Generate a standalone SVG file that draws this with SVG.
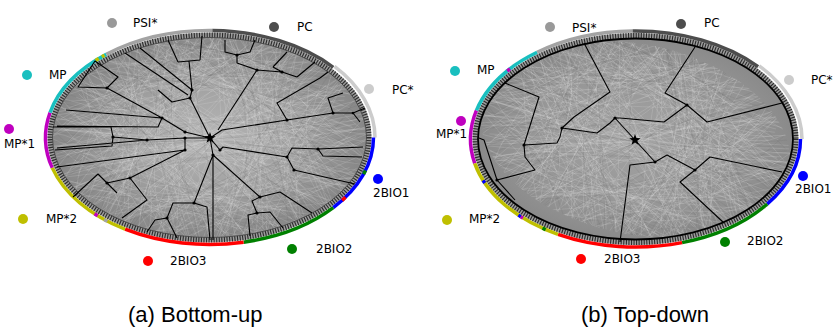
<svg xmlns="http://www.w3.org/2000/svg" xmlns:xlink="http://www.w3.org/1999/xlink" width="834" height="334" viewBox="0 0 834 334">
<style>
.lbl{font-family:"DejaVu Sans",sans-serif;font-size:12px;fill:#000}
.cap{font-family:"Liberation Sans",Arial,sans-serif;font-size:22px;fill:#000}
.band{fill:none;stroke-width:3.5}
.tree{fill:none;stroke:#000;stroke-width:1.1;stroke-linejoin:round}
.tex{fill:none;stroke:#e6e6e6;stroke-width:.55;opacity:.3}
.tex2{fill:none;stroke:#6a6a6a;stroke-width:.5;opacity:.3}
.psi{stroke:#a3a3a3}.pc{stroke:#4d4d4d}.pcs{stroke:#cccccc}.mp{stroke:#19bfbf}.mp1{stroke:#bf00bf}.mp2{stroke:#bfbf00}.b1{stroke:#0000ff}.b2{stroke:#008000}.b3{stroke:#ff0000}
</style>
<defs>
<radialGradient id="gL" cx="50%" cy="50%" r="50%">
<stop offset="0" stop-color="#b6b6b6"/><stop offset="0.55" stop-color="#a0a0a0"/><stop offset="1" stop-color="#878787"/>
</radialGradient>
<radialGradient id="gR" cx="50%" cy="50%" r="50%">
<stop offset="0" stop-color="#a2a2a2"/><stop offset="0.7" stop-color="#969696"/><stop offset="1" stop-color="#898989"/>
</radialGradient>
<clipPath id="clipE"><ellipse cx="0" cy="0" rx="157" ry="100"/></clipPath>
<g id="texBase">
<path d="M-150 -40 Q -20 -90 140 -30 M-140 20 Q 0 -60 150 40 M-120 70 Q 10 0 130 -70 M-90 -90 Q 0 20 100 95 M-160 0 Q -30 60 120 80 M-60 -100 Q 40 -10 155 10 M-130 -60 Q 0 40 60 100 M-20 -105 Q -60 0 -10 105 M30 -105 Q 80 0 20 105 M-100 90 Q 20 -40 150 -50 M-155 -20 Q 0 20 155 -10 M-150 40 Q 0 -10 150 55 M-80 -95 Q 60 -60 140 60 M-140 -70 Q -40 40 -100 85 M90 -90 Q 40 20 120 85 M-40 100 Q 60 40 100 -95 M-150 -10 Q -70 -80 40 -100 M-60 95 Q 80 70 155 -20 M-110 -80 Q 20 -30 60 -100 M-150 60 Q -50 30 -20 -100 M10 100 Q 30 -20 150 -60 M-130 85 Q -90 -30 -40 -100 M60 95 Q 100 0 160 -5 M-155 25 Q -60 -30 80 -95"/>
</g>
<g id="texSet">
<use xlink:href="#texBase" class="tex"/>
<use xlink:href="#texBase" class="tex" transform="scale(-1,1)"/>
<use xlink:href="#texBase" class="tex" transform="scale(1,-1)"/>
<use xlink:href="#texBase" class="tex" transform="scale(-1,-1) rotate(8)"/>
<use xlink:href="#texBase" class="tex" transform="rotate(15) scale(1.1,0.9)"/>
<use xlink:href="#texBase" class="tex" transform="rotate(-20) scale(0.9,1.1)"/>
<use xlink:href="#texBase" class="tex" transform="scale(-1,1) rotate(25)"/>
<use xlink:href="#texBase" class="tex" transform="scale(1,-1) rotate(-30)"/>
<use xlink:href="#texBase" class="tex" transform="translate(20,10) rotate(40)"/>
<use xlink:href="#texBase" class="tex" transform="translate(-25,-8) rotate(-45)"/>
<use xlink:href="#texBase" class="tex2" transform="rotate(-6) scale(0.95,1)"/>
<use xlink:href="#texBase" class="tex2" transform="scale(-1,1) rotate(5)"/>
<use xlink:href="#texBase" class="tex2" transform="rotate(35)"/>
</g>
<g id="tex" clip-path="url(#clipE)">
<use xlink:href="#texSet"/>
</g>
<path id="star" d="M0,-6 L1.41,-1.94 L5.71,-1.85 L2.28,0.74 L3.53,4.85 L0,2.4 L-3.53,4.85 L-2.28,0.74 L-5.71,-1.85 L-1.41,-1.94 Z" fill="#000"/>
</defs>
<rect width="834" height="334" fill="#fff"/>

<!-- Panel (a) -->
<g id="panelA">
<ellipse cx="209.5" cy="137.5" rx="159.5" ry="102.5" fill="url(#gL)"/>
<use xlink:href="#tex" transform="translate(209.5,137.5)"/>
<ellipse cx="209.5" cy="137.5" rx="159.5" ry="102.5" fill="none" stroke="#9c9c9c" stroke-width="5"/>
<ellipse cx="209.5" cy="137.5" rx="159.5" ry="102.5" fill="none" stroke="#2b2b2b" stroke-width="5" stroke-dasharray="1.1 1.5"/>
<ellipse cx="209.5" cy="137.5" rx="157" ry="100" fill="none" stroke="#333" stroke-width="0.7"/>
<g id="ringA">
<path class="band mp1" d="M52.26 167.89 A164 107 0 0 1 50.03 112.53"/>
<path class="band mp" d="M50.03 112.53 A164 107 0 0 1 106.3 54.35"/>
<path class="band psi" d="M106.3 54.35 A164 107 0 0 1 212.36 30.52"/>
<path class="band pc" d="M212.36 30.52 A164 107 0 0 1 333.27 67.3"/>
<path class="band pcs" stroke-width="5.5" d="M334.5 66.4 A165.5 108.5 0 0 1 375 137.5"/>
<path class="band b1" d="M373.5 137.5 A164 107 0 0 1 333.27 207.7"/>
<path class="band b2" d="M333.27 207.7 A164 107 0 0 1 243.6 242.16"/>
<path class="band b3" d="M243.6 242.16 A164 107 0 0 1 125.04 229.22"/>
<path class="band mp2" d="M125.04 229.22 A164 107 0 0 1 52.26 167.89"/>
<path class="band mp2" d="M95.57 60.53 A164 107 0 0 1 98.7 58.61 M101.9 56.75 A164 107 0 0 1 104.5 55.29"/>
<path class="band b2" d="M365.5 170.56 A164 107 0 0 1 363.6 174.1"/>
<path class="band b3" d="M345.46 197.33 A164 107 0 0 1 342.18 200.39"/>
<path class="band mp1" d="M97.65 215.76 A164 107 0 0 1 94.55 213.82"/>
<path class="band psi" d="M107.4 221.24 A164 107 0 0 1 104.1 219.47"/>
</g>
</g>

<!-- Panel (b) -->
<g id="panelB">
<ellipse cx="635.5" cy="139" rx="160.5" ry="103.5" fill="url(#gR)"/>
<use xlink:href="#tex" transform="translate(635.5,139) rotate(12) scale(1,0.95)"/>
<ellipse cx="635.5" cy="139" rx="160.5" ry="103.5" fill="none" stroke="#9c9c9c" stroke-width="5"/>
<ellipse cx="635.5" cy="139" rx="160.5" ry="103.5" fill="none" stroke="#2b2b2b" stroke-width="5" stroke-dasharray="1.1 1.5"/>
<ellipse cx="635.5" cy="139" rx="157.5" ry="100.5" fill="none" stroke="#000" stroke-width="1.8"/>
<g id="ringB">
<path class="band mp1" d="M474.73 163.3 A165 108 0 0 1 476.42 110.33"/>
<path class="band mp" d="M476.42 110.33 A165 108 0 0 1 537.13 52.3"/>
<path class="band psi" d="M537.13 52.3 A165 108 0 0 1 632.62 31.02"/>
<path class="band pc" d="M632.62 31.02 A165 108 0 0 1 758.1 66.73"/>
<path class="band pcs" stroke-width="5.5" d="M759.2 65.8 A166.5 109.5 0 0 1 802 139"/>
<path class="band b1" d="M800.5 139 A165 108 0 0 1 767.27 204"/>
<path class="band b2" d="M767.27 204 A165 108 0 0 1 682.08 242.6"/>
<path class="band b3" d="M682.08 242.6 A165 108 0 0 1 558.03 234.35"/>
<path class="band mp2" d="M558.03 234.35 A165 108 0 0 1 474.73 163.3"/>
<path class="band mp1" d="M507.28 71.04 A165 108 0 0 1 510.03 68.86"/>
<path class="band b1" d="M484.77 182.93 A165 108 0 0 1 483.06 180.33 M520.88 216.68 A165 108 0 0 1 518.42 215.1"/>
<path class="band mp1" d="M522.97 217.99 A165 108 0 0 1 520.88 216.68"/>
<path class="band b2" d="M545.64 229.58 A165 108 0 0 1 542.52 228.22"/>
</g>
</g>

<!-- Connectors: dendrogram edges -->
<g id="connectors">
<path id="treeA" class="tree" d="
M210 138 L185 132 L162 118 L107 88
M107 88 L78 87 L95 61 L118 77 Z
M162 118 L66 110
M162 118 L158 127 L57 126
M210 138 L190 98 L192 90
M190 98 L172 102 L158 90
M188 95 L125 53 M192 90 L140 48
M192 90 L189 61 M178 62 L200 60 M178 62 L168 40 M200 60 L202 36
M218 130 L257 70
M257 70 L237 63 L237 55
M225 40 L225 52 L237 55 L250 52 L255 40
M257 70 L282 72 M273 67 L282 72 L297 77 M273 67 L287 52 M297 77 L315 62
M210 138 L222 130 L287 120 L333 113
M287 120 L277 103 L320 78 L328 72
M333 113 L328 98 L343 93 M333 113 L353 113 L360 122 M353 113 L365 108
M210 138 L220 150 L223 147 L287 157
M287 157 L292 148 L318 149 L363 147 M318 149 L323 156 L362 157
M287 157 L294 170 L355 184
M210 138 L213 155 L260 197
M260 197 L252 201 L257 213 M260 197 L280 192 L312 213
M257 213 L248 215 L250 236 M257 213 L270 212 L283 228
M213 155 L194 203 M213 156 L213 240
M194 203 L173 203 L167 218 M194 203 L207 207 L210 240
M167 218 L177 238 M167 218 L155 220 L147 232
M210 138 L185 138 L185 150 L130 178
M130 178 L147 200 L122 218 M130 178 L107 183
M73 197 L98 174 L117 193
M185 150 L57 167
M185 138 L147 140 L57 148
M147 140 L113 137 L111 127 L53 127 M113 137 L112 146 L55 150
"/>
<g fill="#000">
<circle cx="162" cy="118" r="1.6"/><circle cx="107" cy="88" r="1.6"/><circle cx="185" cy="132" r="1.6"/><circle cx="192" cy="90" r="1.6"/><circle cx="190" cy="98" r="1.6"/><circle cx="257" cy="70" r="1.6"/><circle cx="237" cy="55" r="1.6"/><circle cx="282" cy="72" r="1.6"/><circle cx="287" cy="120" r="1.6"/><circle cx="333" cy="113" r="1.6"/><circle cx="287" cy="157" r="1.6"/><circle cx="318" cy="149" r="1.6"/><circle cx="294" cy="170" r="1.6"/><circle cx="220" cy="150" r="1.6"/><circle cx="213" cy="155" r="1.6"/><circle cx="260" cy="197" r="1.6"/><circle cx="257" cy="213" r="1.6"/><circle cx="194" cy="203" r="1.6"/><circle cx="167" cy="218" r="1.6"/><circle cx="130" cy="178" r="1.6"/><circle cx="107" cy="183" r="1.6"/><circle cx="185" cy="150" r="1.6"/><circle cx="147" cy="140" r="1.6"/><circle cx="113" cy="137" r="1.6"/><circle cx="185" cy="138" r="1.6"/><circle cx="353" cy="113" r="1.3"/>
</g>
<path id="treeB" class="tree" d="
M635 140 L615 118
M615 118 L610 123 L597 133 L562 128
M562 128 L574 117 L610 92 L584 43
M562 128 L560 137 L557 143 L524 145
M524 145 L539 97 L505 83
M524 145 L525 157 L535 170 L497 180
M497 180 L484 140 L479 138 M497 180 L515 200
M635 140 L655 162
M655 162 L630 165 L620 242
M655 162 L667 155 L695 170
M695 170 L710 157 L782 172
M695 170 L680 182 L724 223
M615 118 L620 118 L664 122 L687 105
M687 105 L665 93 L695 47
M687 105 L707 122 L782 103
"/>
<g fill="#000">
<circle cx="615" cy="118" r="1.6"/><circle cx="562" cy="128" r="1.6"/><circle cx="524" cy="145" r="1.6"/><circle cx="497" cy="180" r="1.6"/><circle cx="655" cy="162" r="1.6"/><circle cx="695" cy="170" r="1.6"/><circle cx="687" cy="105" r="1.6"/>
</g>
</g>

<g id="rootA"><use xlink:href="#star" transform="translate(210,138)"/></g>
<g id="rootB"><use xlink:href="#star" transform="translate(635,140)"/></g>

<!-- Legend (a) -->
<g id="legA-psi"><circle cx="112" cy="23" r="5" fill="#999999"/><text class="lbl" x="133" y="27">PSI*</text></g>
<g id="legA-pc"><circle cx="274" cy="27" r="5" fill="#4d4d4d"/><text class="lbl" x="297" y="31">PC</text></g>
<g id="legA-pcs"><circle cx="369" cy="89" r="5" fill="#cccccc"/><text class="lbl" x="392" y="94">PC*</text></g>
<g id="legA-mp"><circle cx="27" cy="75" r="5" fill="#19bfbf"/><text class="lbl" x="49" y="79">MP</text></g>
<g id="legA-mp1"><circle cx="9" cy="129" r="5" fill="#bf00bf"/><text class="lbl" x="4" y="148">MP*1</text></g>
<g id="legA-mp2"><circle cx="23" cy="219" r="5" fill="#bfbf00"/><text class="lbl" x="46" y="223">MP*2</text></g>
<g id="legA-b1"><circle cx="378" cy="179" r="5" fill="#0000ff"/><text class="lbl" x="373" y="197">2BIO1</text></g>
<g id="legA-b2"><circle cx="292" cy="249" r="5" fill="#008000"/><text class="lbl" x="316" y="253">2BIO2</text></g>
<g id="legA-b3"><circle cx="148" cy="261" r="5" fill="#ff0000"/><text class="lbl" x="170" y="265">2BIO3</text></g>

<!-- Legend (b) -->
<g id="legB-psi"><circle cx="550" cy="27" r="5" fill="#999999"/><text class="lbl" x="572" y="32">PSI*</text></g>
<g id="legB-pc"><circle cx="681" cy="24" r="5" fill="#4d4d4d"/><text class="lbl" x="704" y="27">PC</text></g>
<g id="legB-pcs"><circle cx="789" cy="80" r="5" fill="#cccccc"/><text class="lbl" x="811" y="84">PC*</text></g>
<g id="legB-mp"><circle cx="455" cy="71" r="5" fill="#19bfbf"/><text class="lbl" x="477" y="74">MP</text></g>
<g id="legB-mp1"><circle cx="461" cy="121" r="5" fill="#bf00bf"/><text class="lbl" x="436" y="138">MP*1</text></g>
<g id="legB-mp2"><circle cx="447" cy="220" r="5" fill="#bfbf00"/><text class="lbl" x="469" y="223">MP*2</text></g>
<g id="legB-b1"><circle cx="803" cy="176" r="5" fill="#0000ff"/><text class="lbl" x="795" y="193">2BIO1</text></g>
<g id="legB-b2"><circle cx="725" cy="242" r="5" fill="#008000"/><text class="lbl" x="747" y="245">2BIO2</text></g>
<g id="legB-b3"><circle cx="581" cy="259" r="5" fill="#ff0000"/><text class="lbl" x="604" y="263">2BIO3</text></g>

<g id="captions">
<text class="cap" x="128" y="322">(a) Bottom-up</text>
<text class="cap" x="581" y="322">(b) Top-down</text>
</g>
</svg>
